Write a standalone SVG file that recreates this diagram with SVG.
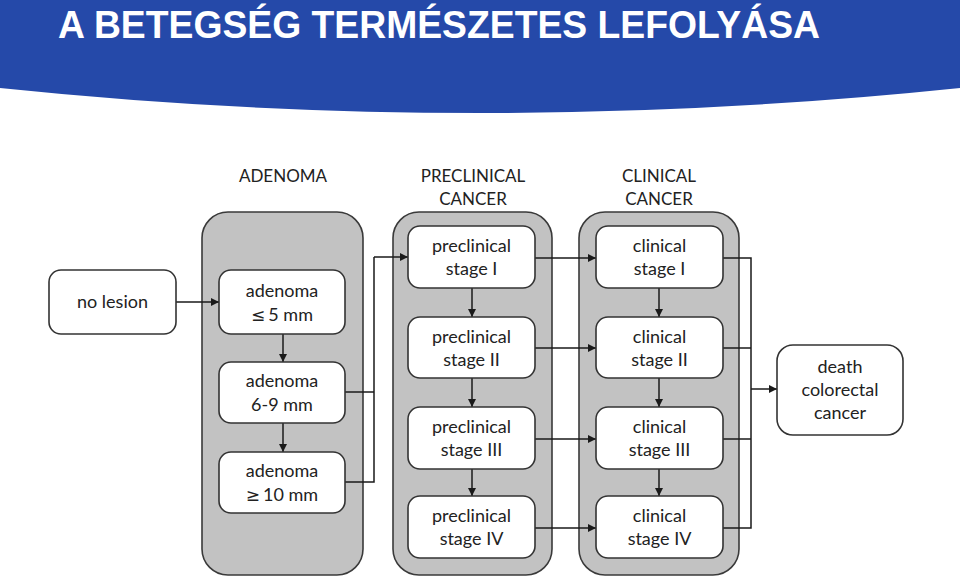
<svg xmlns="http://www.w3.org/2000/svg" width="960" height="579" viewBox="0 0 960 579">
<defs>
<marker id="ah" viewBox="0 0 10 10" refX="10" refY="5" markerWidth="9" markerHeight="8" markerUnits="userSpaceOnUse" orient="auto">
<path d="M0,0 L10,5 L0,10 Z" fill="#1a1a1a"/>
</marker>
<style>
.cont{fill:#c2c2c2;stroke:#3a3a3a;stroke-width:1.6}
.box{fill:#ffffff;stroke:#333333;stroke-width:1.6}
.t{font-family:Lato,"Liberation Sans",sans-serif;font-size:18px;fill:#222222;text-anchor:middle}
.h{font-family:Lato,"Liberation Sans",sans-serif;font-size:17px;fill:#222222;text-anchor:middle}
.sym{font-family:"DejaVu Sans",sans-serif;font-size:17px}
.ln{fill:none;stroke:#1a1a1a;stroke-width:1.5}
.ar{fill:none;stroke:#1a1a1a;stroke-width:1.5;marker-end:url(#ah)}
</style>
</defs>
<rect width="960" height="579" fill="#ffffff"/>
<path d="M0,0 H960 V88 Q480,138 0,88 Z" fill="#2549a9"/>
<text x="58" y="38" font-family="'Liberation Sans',Arial,sans-serif" font-weight="bold" font-size="38" fill="#ffffff" textLength="762" lengthAdjust="spacingAndGlyphs">A BETEGSÉG TERMÉSZETES LEFOLYÁSA</text>

<g id="headers">
<text class="h" x="283" y="182">ADENOMA</text>
<text class="h" x="473" y="182">PRECLINICAL</text>
<text class="h" x="473" y="205">CANCER</text>
<text class="h" x="659" y="182">CLINICAL</text>
<text class="h" x="659" y="205">CANCER</text>
</g>

<g id="containers">
<rect id="adenoma-group" class="cont" x="202" y="212" width="161" height="363" rx="26"/>
<rect id="preclinical-group" class="cont" x="393" y="212" width="159" height="363" rx="26"/>
<rect id="clinical-group" class="cont" x="579" y="212" width="160" height="363" rx="26"/>
</g>

<g id="connectors">
<line class="ar" x1="176" y1="302" x2="219" y2="302"/>
<line class="ar" x1="283" y1="334" x2="283" y2="362"/>
<line class="ar" x1="283" y1="423" x2="283" y2="452"/>
<polyline class="ln" points="345,392 374,392"/>
<polyline class="ln" points="345,482 374,482 374,257"/>
<polyline class="ar" points="374,257 408,257"/>
<line class="ar" x1="472" y1="288" x2="472" y2="317"/>
<line class="ar" x1="472" y1="378" x2="472" y2="407"/>
<line class="ar" x1="472" y1="469" x2="472" y2="496"/>
<line class="ar" x1="659" y1="288" x2="659" y2="317"/>
<line class="ar" x1="659" y1="378" x2="659" y2="407"/>
<line class="ar" x1="659" y1="469" x2="659" y2="496"/>
<line class="ar" x1="535" y1="258" x2="596" y2="258"/>
<line class="ar" x1="535" y1="348" x2="596" y2="348"/>
<line class="ar" x1="535" y1="439" x2="596" y2="439"/>
<line class="ar" x1="535" y1="528" x2="596" y2="528"/>
<polyline class="ln" points="723,258 751,258 751,528 723,528"/>
<line class="ln" x1="723" y1="348" x2="751" y2="348"/>
<line class="ln" x1="723" y1="439" x2="751" y2="439"/>
<line class="ar" x1="751" y1="389" x2="777" y2="389"/>
</g>

<g id="no-lesion">
<rect class="box" x="49" y="270" width="127" height="64" rx="12"/>
<text class="t" x="112.5" y="308">no lesion</text>
</g>
<g id="adenoma-5">
<rect class="box" x="219" y="270" width="126" height="64" rx="12"/>
<text class="t" x="282" y="297">adenoma</text>
<text class="t" x="282" y="321"><tspan class="sym">≤</tspan><tspan dx="3">5 mm</tspan></text>
</g>
<g id="adenoma-6-9">
<rect class="box" x="219" y="362" width="126" height="61" rx="12"/>
<text class="t" x="282" y="387">adenoma</text>
<text class="t" x="282" y="411">6-9 mm</text>
</g>
<g id="adenoma-10">
<rect class="box" x="219" y="452" width="126" height="61" rx="12"/>
<text class="t" x="282" y="477">adenoma</text>
<text class="t" x="282" y="501"><tspan class="sym">≥</tspan><tspan dx="3">10 mm</tspan></text>
</g>

<g id="preclinical-1">
<rect class="box" x="408" y="226" width="127" height="62" rx="12"/>
<text class="t" x="471.5" y="252">preclinical</text>
<text class="t" x="471.5" y="275">stage I</text>
</g>
<g id="preclinical-2">
<rect class="box" x="408" y="317" width="127" height="61" rx="12"/>
<text class="t" x="471.5" y="343">preclinical</text>
<text class="t" x="471.5" y="366">stage II</text>
</g>
<g id="preclinical-3">
<rect class="box" x="408" y="407" width="127" height="62" rx="12"/>
<text class="t" x="471.5" y="433">preclinical</text>
<text class="t" x="471.5" y="456">stage III</text>
</g>
<g id="preclinical-4">
<rect class="box" x="408" y="496" width="127" height="62" rx="12"/>
<text class="t" x="471.5" y="522">preclinical</text>
<text class="t" x="471.5" y="545">stage IV</text>
</g>

<g id="clinical-1">
<rect class="box" x="596" y="226" width="127" height="62" rx="12"/>
<text class="t" x="659.5" y="252">clinical</text>
<text class="t" x="659.5" y="275">stage I</text>
</g>
<g id="clinical-2">
<rect class="box" x="596" y="317" width="127" height="61" rx="12"/>
<text class="t" x="659.5" y="343">clinical</text>
<text class="t" x="659.5" y="366">stage II</text>
</g>
<g id="clinical-3">
<rect class="box" x="596" y="407" width="127" height="62" rx="12"/>
<text class="t" x="659.5" y="433">clinical</text>
<text class="t" x="659.5" y="456">stage III</text>
</g>
<g id="clinical-4">
<rect class="box" x="596" y="496" width="127" height="62" rx="12"/>
<text class="t" x="659.5" y="522">clinical</text>
<text class="t" x="659.5" y="545">stage IV</text>
</g>

<g id="death">
<rect class="box" x="777" y="345" width="126" height="90" rx="16"/>
<text class="t" x="840" y="373">death</text>
<text class="t" x="840" y="396">colorectal</text>
<text class="t" x="840" y="419">cancer</text>
</g>
</svg>
